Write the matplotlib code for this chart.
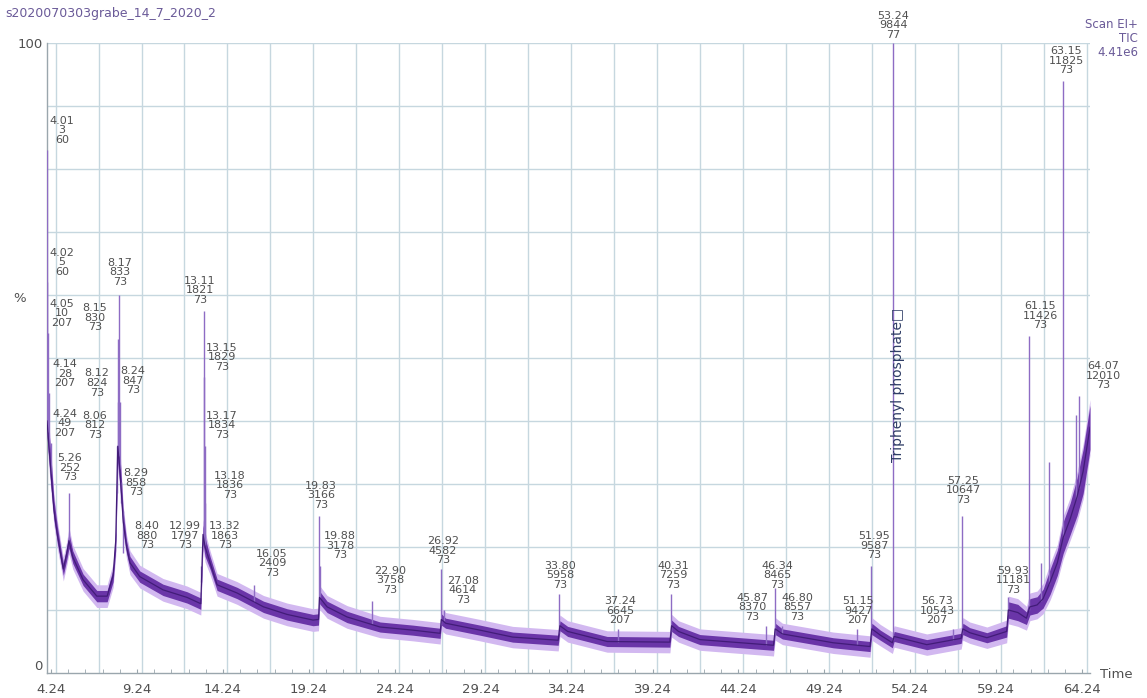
import matplotlib
matplotlib.use("Agg")
import matplotlib.pyplot as plt
import numpy as np

# ---------------- data ----------------
title = "s2020070303grabe_14_7_2020_2"
header_lines = ["Scan EI+", "TIC", "4.41e6"]
x_tick_values = [4.24, 9.24, 14.24, 19.24, 24.24, 29.24, 34.24,
                 39.24, 44.24, 49.24, 54.24, 59.24, 64.24]
x_tick_labels = ["4.24", "9.24", "14.24", "19.24", "24.24", "29.24", "34.24",
                 "39.24", "44.24", "49.24", "54.24", "59.24", "64.24"]

# baseline (TIC trace) : time, centre %, half band width %
base_t = [4.00, 4.20, 4.40, 4.60, 4.85, 4.95, 5.15, 5.28, 5.50, 6.10, 6.90,
          7.50, 7.85, 8.00, 8.12, 8.25, 8.44, 8.63, 8.83, 9.40, 10.75, 12.15,
          12.95, 13.08, 13.20, 13.49, 13.90, 15.06, 16.60, 17.97, 19.48, 19.80,
          19.86, 20.30, 21.46, 23.38, 25.30, 26.88, 26.95, 27.20, 29.20, 31.10,
          33.75, 33.85, 34.30, 36.60, 40.25, 40.35, 40.75, 42.00, 46.28, 46.38,
          46.80, 49.75, 51.90, 52.00, 52.50, 53.20, 53.30, 55.20, 57.20, 57.30,
          57.70, 58.70, 59.85, 59.95, 60.50, 61.00, 61.20, 61.62, 61.97, 62.38,
          62.80, 63.14, 63.55, 63.95, 64.30, 64.53, 64.70]
base_mid = [40, 33, 26, 22, 18, 16.5, 19, 21, 18.4, 14.8, 12.2,
            12.2, 15.5, 21, 36, 32, 24, 20, 17.5, 15.3, 13.2, 12,
            11, 22, 20, 17.5, 14, 12.7, 10.5, 9.3, 8.4, 8.5,
            12, 10.5, 8.9, 7.3, 6.8, 6.3, 8.5, 7.9, 6.8, 5.7,
            5.2, 7.5, 6.6, 5.0, 4.9, 7.5, 6.6, 5.3, 4.4, 7.0,
            6.2, 4.8, 4.2, 7.0, 6.0, 4.8, 5.8, 4.5, 5.5, 7.0,
            6.4, 5.6, 6.6, 10.0, 9.6, 8.7, 10.5, 10.8, 11.8, 14.5,
            17.5, 21.5, 24.5, 28, 32, 36, 39]
base_half = [2.5, 2.5, 1.6, 1.3, 1.0, 1.0, 1.0, 1.2, 1.0, 0.9, 0.9,
             0.9, 1.0, 1.5, 2.5, 2.5, 1.5, 1.0, 1.0, 0.9, 0.9, 0.9,
             0.9, 1.5, 1.5, 1.0, 0.9, 0.9, 0.9, 0.9, 0.9, 0.9,
             1.0, 0.9, 0.9, 0.8, 0.8, 0.8, 0.9, 0.8, 0.8, 0.8,
             0.8, 0.8, 0.8, 0.8, 0.8, 0.9, 0.8, 0.8, 0.8, 0.9,
             0.8, 0.8, 0.8, 0.9, 0.8, 0.8, 0.8, 0.8, 0.8, 0.9,
             0.8, 0.8, 0.9, 1.3, 1.3, 1.0, 1.3, 1.3, 1.5, 2.0,
             2.0, 2.5, 2.5, 3.0, 3.5, 3.5, 3.5]

# labelled peaks: retention time, scan, base m/z, apex height %
peak_rt = [4.01, 4.02, 4.05, 4.14, 4.24, 5.26, 8.06, 8.12, 8.15, 8.17, 8.24,
           8.29, 8.40, 12.99, 13.11, 13.15, 13.17, 13.18, 13.32, 16.05, 19.83,
           19.88, 22.90, 26.92, 27.08, 33.80, 37.24, 40.31, 45.87, 46.34, 46.80,
           51.15, 51.95, 53.24, 56.73, 57.25, 59.93, 61.15, 63.15, 64.07]
peak_scan = [3, 5, 10, 28, 49, 252, 812, 824, 830, 833, 847,
             858, 880, 1797, 1821, 1829, 1834, 1836, 1863, 2409, 3166,
             3178, 3758, 4582, 4614, 5958, 6645, 7259, 8370, 8465, 8557,
             9427, 9587, 9844, 10543, 10647, 11181, 11426, 11825, 12010]
peak_mz = [60, 60, 207, 207, 207, 73, 73, 73, 73, 73, 73,
           73, 73, 73, 73, 73, 73, 73, 73, 73, 73,
           73, 73, 73, 73, 73, 207, 73, 73, 73, 73,
           207, 73, 77, 207, 73, 73, 73, 73, 73]
peak_height = [83, 62, 54, 44.5, 36.5, 28.5, 36, 43, 53, 60, 43,
               27, 19, 17, 57.5, 47, 36, 27, 19, 14, 25,
               17, 11.5, 16.5, 10, 12.5, 7, 12.5, 7.5, 13.5, 7.5,
               7, 17, 100, 7, 25, 12, 53.5, 94, 44]

# unlabelled spikes near the end of the run: time, height %
extra_rt = [61.85, 62.32, 63.90]
extra_height = [17.5, 33.5, 41]

compound_name = "Triphenyl phosphate\u25a1"

# ---------------- layout (label anchors, time / % of the label bottom) -------
label_pos = [(4.87, 83.8), (4.87, 62.9), (4.87, 54.8), (5.05, 45.2), (5.05, 37.3),
             (5.34, 30.3), (6.79, 37.0), (6.91, 43.7), (6.79, 54.1), (8.25, 61.3),
             (9.01, 44.1), (9.18, 27.9), (9.82, 19.5), (12.03, 19.5), (12.91, 58.4),
             (14.19, 47.8), (14.19, 37.0), (14.65, 27.5), (14.36, 19.5), (17.10, 15.1),
             (19.95, 25.9), (21.05, 17.9), (23.97, 12.4), (27.05, 17.1), (28.21, 10.8),
             (33.86, 13.2), (37.35, 7.6), (40.44, 13.2), (45.04, 8.1), (46.49, 13.2),
             (47.66, 8.1), (51.21, 7.6), (52.14, 17.9), (53.24, 100.5), (55.80, 7.6),
             (57.32, 26.7), (60.23, 12.4), (61.80, 54.4), (63.31, 94.9), (65.47, 44.9)]
compound_pos = (53.53, 45.7)

W, H = 1147, 698
fig = plt.figure(figsize=(W / 100, H / 100), dpi=100)
ax = fig.add_axes([47 / W, 1 - 673 / H, (1090 - 47) / W, (673 - 43) / H])
ax.set_xlim(4.0, 64.7)
ax.set_ylim(0, 100)

grid_c = "#c6d7df"
for gx in np.arange(4.5, 64.6, 2.5):
    ax.axvline(gx, color=grid_c, lw=1.0, zorder=0)
for gy in range(10, 101, 10):
    ax.axhline(gy, color=grid_c, lw=1.0, zorder=0)

for s in ["top", "right"]:
    ax.spines[s].set_visible(False)
for s in ["left", "bottom"]:
    ax.spines[s].set_color("#9aa6ad")
    ax.spines[s].set_linewidth(1.0)

# trace band
bt = np.array(base_t)
bm = np.array(base_mid)
bh = np.array(base_half)
ax.fill_between(bt, bm - bh - 0.9, bm + bh + 0.9, color="#d2b8f0", lw=0, zorder=2)
ax.fill_between(bt, bm - bh, bm + bh, color="#6a35a8", lw=0, zorder=3)
ax.plot(bt, bm, color="#421c78", lw=0.9, zorder=4)

# spikes
spk_t = np.array(peak_rt + extra_rt)
spk_h = np.array(peak_height + extra_height)
spk_base = np.interp(spk_t, bt, bm)
ax.vlines(spk_t, spk_base, spk_h, color="#8e6cc4", lw=1.0, zorder=3)

# peak labels
for rt, sc, mz, (lx, ly) in zip(peak_rt, peak_scan, peak_mz, label_pos):
    ax.text(lx, ly, f"{rt:.2f}\n{sc}\n{mz}", ha="center", va="bottom",
            fontsize=8, color="#505050", linespacing=0.95, clip_on=False,
            zorder=6)

ax.text(compound_pos[0], compound_pos[1], compound_name, rotation=90,
        ha="center", va="center", fontsize=10, color="#2f3d66", zorder=6)

# axes ticks
ax.set_xticks(x_tick_values)
ax.set_xticklabels(x_tick_labels)
ax.set_xticks(np.arange(5.24, 64.3, 1.0), minor=True)
ax.tick_params(axis="x", which="major", length=3, direction="in",
               color="#9aa6ad", labelsize=9.5, labelcolor="#505050", pad=7)
ax.tick_params(axis="x", which="minor", length=3, direction="in", color="#9aa6ad")
ax.set_yticks([0, 100])
ax.set_yticklabels(["0", "100"])
ax.tick_params(axis="y", length=0, labelsize=9.5, labelcolor="#505050", pad=3)
for lbl in ax.get_yticklabels():
    if lbl.get_text() == "0":
        lbl.set_verticalalignment("bottom")

fig.text(20 / W, 1 - 298 / H, "%", fontsize=9.5, color="#505050",
         ha="center", va="center")
fig.text(1100 / W, 1 - 674 / H, "Time", fontsize=9.5, color="#505050",
         ha="left", va="center")

fig.text(5 / W, 1 - 13 / H, title, fontsize=9, color="#6a5a98",
         ha="left", va="center")
for i, line in enumerate(header_lines):
    fig.text(1138 / W, 1 - (25 + 13.5 * i) / H, line, fontsize=8.5,
             color="#6a5a98", ha="right", va="center")

fig.savefig("out.png", dpi=100)
